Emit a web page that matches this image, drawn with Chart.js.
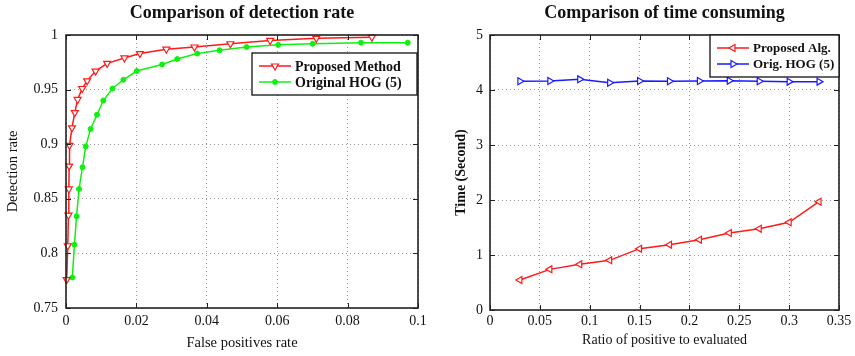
<!DOCTYPE html>
<html>
  <head>
    <style>
      body { margin: 0; background: #fff; }
      .panel { position: absolute; top: 0; height: 356px; }
    </style>
  </head>
  <body>
    <div class="panel" style="left: 0; width: 435px"><canvas id="rate" width="435" height="356"></canvas></div>
    <div class="panel" style="left: 435px; width: 420px"><canvas id="time" width="420" height="356"></canvas></div>

    <script src="https://cdn.jsdelivr.net/npm/chart.js"></script>
    <script>
      // left panel: detection rate vs false positive rate
      const fpProposed  = [0.0002, 0.0005, 0.0007, 0.0008, 0.0009, 0.0010, 0.0017, 0.0025, 0.0033, 0.0046, 0.0060,
                           0.0084, 0.0117, 0.0166, 0.0210, 0.0285, 0.0365, 0.0467, 0.0580, 0.0711, 0.0869];
      const detProposed = [0.776, 0.807, 0.835, 0.859, 0.880, 0.899, 0.915, 0.929, 0.941, 0.951, 0.958,
                           0.967, 0.974, 0.979, 0.983, 0.987, 0.989, 0.992, 0.995, 0.997, 0.998];
      const fpHog  = [0.0018, 0.0024, 0.0030, 0.0037, 0.0047, 0.0056, 0.0070, 0.0088, 0.0106, 0.0132, 0.0163,
                      0.0201, 0.0273, 0.0316, 0.0373, 0.0436, 0.0513, 0.0603, 0.0701, 0.0838, 0.0971];
      const detHog = [0.778, 0.808, 0.834, 0.859, 0.879, 0.898, 0.914, 0.927, 0.940, 0.951, 0.959,
                      0.967, 0.973, 0.978, 0.983, 0.986, 0.989, 0.991, 0.992, 0.993, 0.993];

      // right panel: time vs ratio of positives
      const posRatio     = [0.03, 0.06, 0.09, 0.12, 0.15, 0.18, 0.21, 0.24, 0.27, 0.30, 0.33];
      const timeProposed = [0.545, 0.739, 0.830, 0.903, 1.115, 1.188, 1.279, 1.400, 1.479, 1.594, 1.970];
      const timeHog      = [4.158, 4.164, 4.194, 4.133, 4.164, 4.158, 4.164, 4.170, 4.158, 4.152, 4.152];

      const labelsRate = ["Proposed Method", "Original HOG (5)"];
      const labelsTime = ["Proposed Alg.", "Orig. HOG (5)"];

      function pairs(xs, ys) {
        return xs.map(function (x, i) { return { x: x, y: ys[i] }; });
      }
      function fmt(v) { return String(+v.toFixed(3)); }

      Chart.defaults.font.family = "'Liberation Serif', 'Times New Roman', serif";
      Chart.defaults.color = "#111";

      // box around the plot, inward ticks, and a MATLAB style legend
      const frame = {
        id: "frame",
        afterLayout(chart) {
          // centre the title over the plot box, not the whole canvas
          if (chart.titleBlock) {
            chart.titleBlock.left = chart.chartArea.left;
            chart.titleBlock.right = chart.chartArea.right;
            chart.titleBlock.width = chart.chartArea.right - chart.chartArea.left;
          }
        },
        afterDatasetsDraw(chart, args, opts) {
          const ctx = chart.ctx;
          const a = chart.chartArea;
          const sx = chart.scales.x, sy = chart.scales.y;
          ctx.save();
          ctx.strokeStyle = "#222";
          ctx.lineWidth = 1;
          ctx.beginPath();
          sx.ticks.forEach(function (t) {
            const p = Math.round(sx.getPixelForValue(t.value)) + 0.5;
            ctx.moveTo(p, a.bottom); ctx.lineTo(p, a.bottom - 5);
            ctx.moveTo(p, a.top); ctx.lineTo(p, a.top + 5);
          });
          sy.ticks.forEach(function (t) {
            const p = Math.round(sy.getPixelForValue(t.value)) + 0.5;
            ctx.moveTo(a.left, p); ctx.lineTo(a.left + 5, p);
            ctx.moveTo(a.right, p); ctx.lineTo(a.right - 5, p);
          });
          ctx.stroke();
          ctx.lineWidth = 1.6;
          ctx.strokeRect(a.left, a.top, a.right - a.left, a.bottom - a.top);

          // legend
          const bx = a.right - opts.marginRight - opts.width;
          const by = a.top + opts.marginTop;
          ctx.fillStyle = "#fff";
          ctx.fillRect(bx, by, opts.width, opts.height);
          ctx.lineWidth = 1.3;
          ctx.strokeStyle = "#111";
          ctx.strokeRect(bx, by, opts.width, opts.height);
          chart.data.datasets.forEach(function (ds, i) {
            const y = by + 13 + i * 16;
            ctx.strokeStyle = ds.borderColor;
            ctx.lineWidth = ds.borderWidth;
            ctx.beginPath();
            ctx.moveTo(bx + 7, y); ctx.lineTo(bx + 39, y);
            ctx.stroke();
            ctx.fillStyle = ds.pointBackgroundColor;
            ctx.strokeStyle = ds.borderColor;
            ctx.lineWidth = ds.pointBorderWidth;
            Chart.helpers.drawPoint(ctx, {
              pointStyle: ds.pointStyle, rotation: ds.pointRotation,
              radius: ds.pointRadius, borderWidth: ds.pointBorderWidth
            }, bx + 23, y);
            ctx.fillStyle = "#111";
            ctx.font = "bold " + opts.fontSize + "px 'Liberation Serif', serif";
            ctx.textBaseline = "middle";
            ctx.fillText(ds.label, bx + 43, y + 1);
          });
          ctx.restore();
        }
      };

      const gridOpts = { color: "rgba(0,0,0,0.4)", drawTicks: false };
      const borderOpts = { display: false, dash: [1, 3] };

      new Chart(document.getElementById("rate"), {
        type: "line",
        data: {
          datasets: [{
            label: labelsRate[0],
            data: pairs(fpProposed, detProposed),
            borderColor: "#ff1a1a",
            borderWidth: 1.5,
            pointStyle: "triangle",
            pointRotation: 180,
            pointRadius: 4,
            pointBorderWidth: 1.2,
            pointBackgroundColor: "#fff",
            clip: false
          }, {
            label: labelsRate[1],
            data: pairs(fpHog, detHog),
            borderColor: "#10f010",
            borderWidth: 1.5,
            pointStyle: "circle",
            pointRotation: 0,
            pointRadius: 2.5,
            pointBorderWidth: 1,
            pointBackgroundColor: "#10f010",
            clip: false
          }]
        },
        options: {
          responsive: false,
          animation: false,
          events: [],
          layout: { padding: { left: 0, right: 17, top: 0, bottom: 0 } },
          plugins: {
            legend: { display: false },
            tooltip: { enabled: false },
            title: {
              display: true,
              text: "Comparison of detection rate",
              color: "#111",
              font: { size: 18, weight: "bold" },
              padding: { top: 3, bottom: 10.4 }
            },
            frame: { width: 165, height: 42, marginRight: 1, marginTop: 18, fontSize: 14 }
          },
          scales: {
            x: {
              type: "linear", min: 0, max: 0.1,
              ticks: { stepSize: 0.02, padding: 5, font: { size: 14 }, callback: fmt, maxRotation: 0 },
              grid: gridOpts, border: borderOpts,
              title: { display: true, text: "False positives rate", font: { size: 14.5 }, padding: { top: 0, bottom: 4 } },
              afterFit: function (s) { s.height = 48; }
            },
            y: {
              min: 0.75, max: 1,
              ticks: { stepSize: 0.05, padding: 8, font: { size: 14 }, callback: fmt },
              grid: gridOpts, border: borderOpts,
              title: { display: true, text: "Detection rate", font: { size: 14.5 }, padding: { top: 4, bottom: 0 } },
              afterFit: function (s) { s.width = 66; }
            }
          }
        },
        plugins: [frame]
      });

      new Chart(document.getElementById("time"), {
        type: "line",
        data: {
          datasets: [{
            label: labelsTime[0],
            data: pairs(posRatio, timeProposed),
            borderColor: "#ff1a1a",
            borderWidth: 1.5,
            pointStyle: "triangle",
            pointRotation: 270,
            pointRadius: 4,
            pointBorderWidth: 1.2,
            pointBackgroundColor: "#fff",
            clip: false
          }, {
            label: labelsTime[1],
            data: pairs(posRatio, timeHog),
            borderColor: "#1a1aff",
            borderWidth: 1.5,
            pointStyle: "triangle",
            pointRotation: 90,
            pointRadius: 4,
            pointBorderWidth: 1.2,
            pointBackgroundColor: "#fff",
            clip: false
          }]
        },
        options: {
          responsive: false,
          animation: false,
          events: [],
          layout: { padding: { left: 0, right: 16, top: 0, bottom: 0 } },
          plugins: {
            legend: { display: false },
            tooltip: { enabled: false },
            title: {
              display: true,
              text: "Comparison of time consuming",
              color: "#111",
              font: { size: 18, weight: "bold" },
              padding: { top: 3, bottom: 10.4 }
            },
            frame: { width: 129, height: 42, marginRight: 0, marginTop: 0, fontSize: 13 }
          },
          scales: {
            x: {
              type: "linear", min: 0, max: 0.35,
              ticks: { stepSize: 0.05, padding: 3, font: { size: 14 }, callback: fmt, maxRotation: 0 },
              grid: gridOpts, border: borderOpts,
              title: { display: true, text: "Ratio of positive to evaluated", font: { size: 14 }, padding: { top: 0, bottom: 7 } },
              afterFit: function (s) { s.height = 46; }
            },
            y: {
              min: 0, max: 5,
              ticks: { stepSize: 1, padding: 7, font: { size: 14 }, callback: fmt },
              grid: gridOpts, border: borderOpts,
              title: { display: true, text: "Time (Second)", font: { size: 14, weight: "bold" }, padding: { top: 18, bottom: 0 } },
              afterFit: function (s) { s.width = 55; }
            }
          }
        },
        plugins: [frame]
      });
    </script>
  </body>
</html>
